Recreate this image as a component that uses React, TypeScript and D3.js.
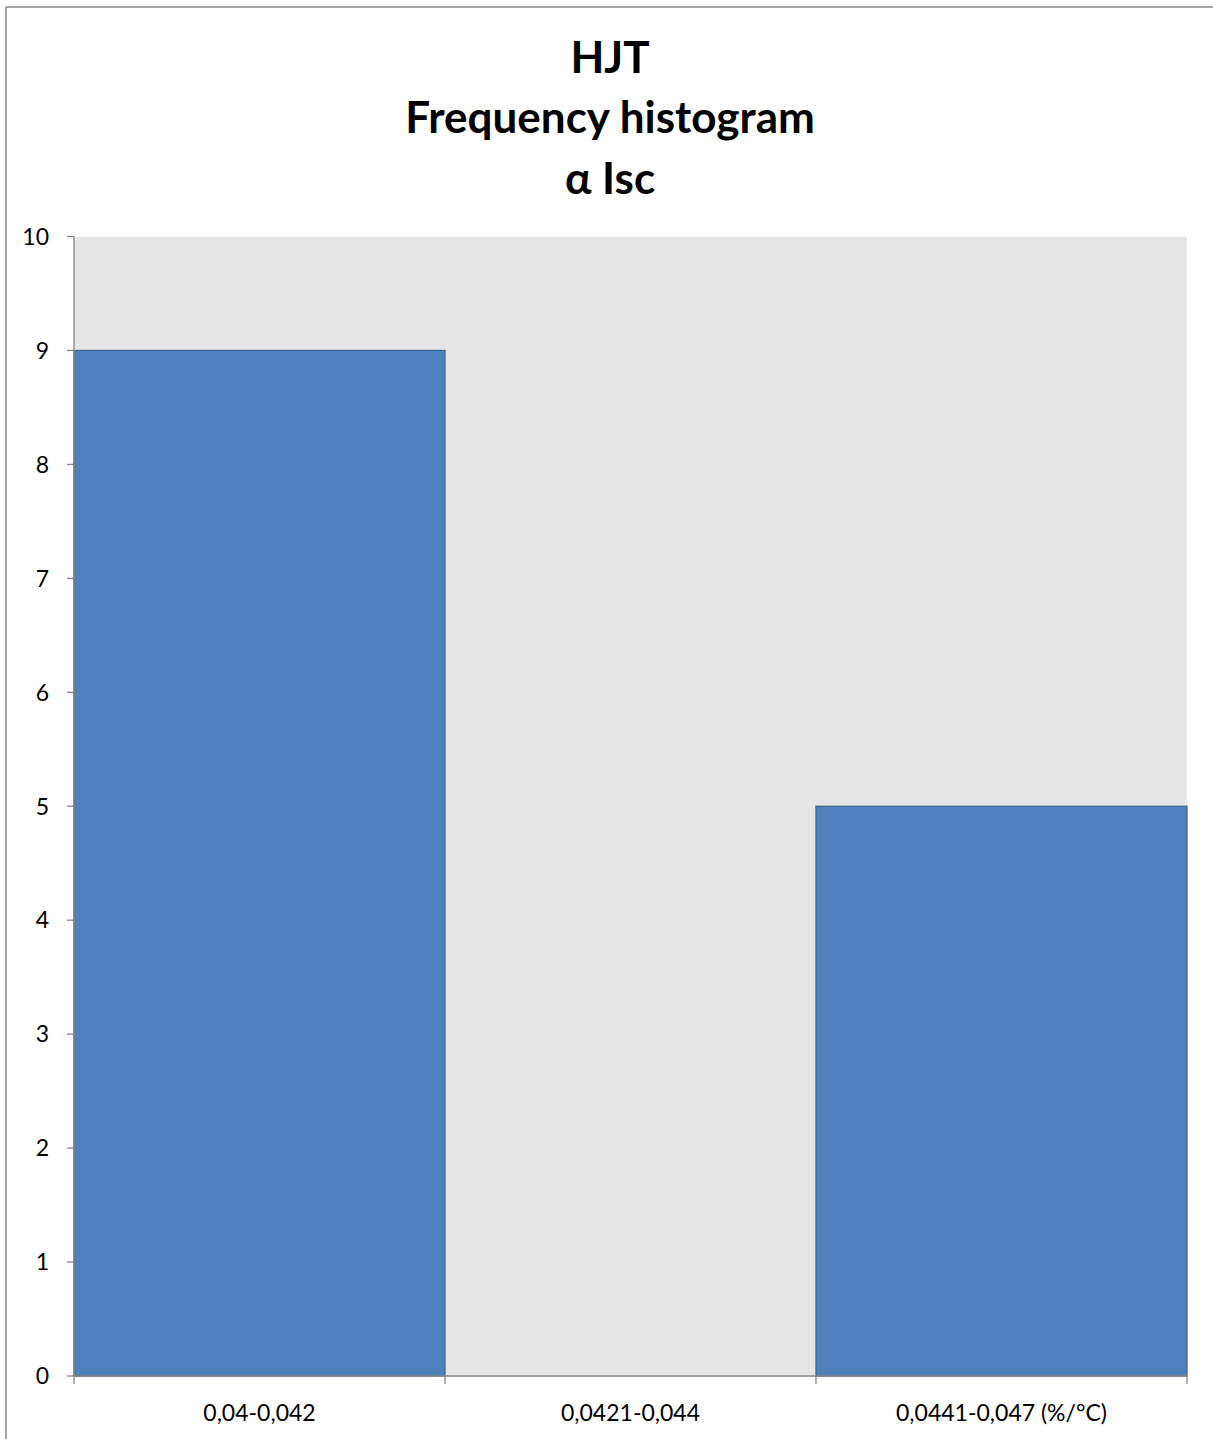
import React from "react";
import * as d3 from "d3";

const titleLines = ["HJT", "Frequency histogram", "α Isc"];
const categories = ["0,04-0,042", "0,0421-0,044", "0,0441-0,047 (%/°C)"];
const frequencies = [9, 0, 5];
const yTicks = [0, 1, 2, 3, 4, 5, 6, 7, 8, 9, 10];

const W = 1213;
const H = 1439;
const plot = { left: 74, right: 1187, top: 236.5, bottom: 1376 };
const axisColor = "#868686";
const font = "Lato, Carlito, 'Open Sans', sans-serif";

export default function App() {
  const x = d3
    .scaleBand<string>()
    .domain(categories)
    .range([plot.left, plot.right])
    .padding(0);
  const y = d3.scaleLinear().domain([0, 10]).range([plot.bottom, plot.top]);
  const boundaries = [...categories.map((c) => x(c) as number), plot.right];

  return (
    <svg
      width={W}
      height={H}
      style={{ position: "absolute", left: 0, top: 0, background: "#fff" }}
    >
      {/* chart border */}
      <line x1={6} y1={7} x2={W + 10} y2={7} stroke="#898989" strokeWidth={1.5} />
      <line x1={6} y1={7} x2={6} y2={H + 10} stroke="#898989" strokeWidth={1.5} />

      {/* title */}
      {titleLines.map((t, i) => (
        <text
          key={t}
          x={610}
          y={72.5 + i * 60.5}
          textAnchor="middle"
          fontFamily={font}
          fontWeight="bold"
          fontSize={44}
          fill="#000"
        >
          {t}
        </text>
      ))}

      {/* plot background */}
      <rect
        x={plot.left}
        y={plot.top}
        width={plot.right - plot.left}
        height={plot.bottom - plot.top}
        fill="#E6E6E6"
      />

      {/* bars */}
      {categories.map((c, i) =>
        frequencies[i] > 0 ? (
          <rect
            key={c}
            x={x(c) as number}
            y={y(frequencies[i])}
            width={x.bandwidth()}
            height={y(0) - y(frequencies[i])}
            fill="#4F81BD"
            stroke="#3F6895"
            strokeWidth={1.3}
          />
        ) : null
      )}

      {/* y axis */}
      <line
        x1={plot.left}
        y1={plot.top}
        x2={plot.left}
        y2={plot.bottom}
        stroke={axisColor}
        strokeWidth={1.3}
      />
      {yTicks.map((t) => (
        <g key={t}>
          <line
            x1={plot.left - 7}
            x2={plot.left}
            y1={y(t)}
            y2={y(t)}
            stroke={axisColor}
            strokeWidth={1.3}
          />
          <text
            x={49}
            y={y(t)}
            dy="0.36em"
            textAnchor="end"
            fontFamily={font}
            fontSize={23}
            fill="#000"
          >
            {t}
          </text>
        </g>
      ))}

      {/* x axis */}
      <line
        x1={plot.left}
        y1={plot.bottom}
        x2={plot.right}
        y2={plot.bottom}
        stroke={axisColor}
        strokeWidth={1.3}
      />
      {boundaries.map((b, i) => (
        <line
          key={i}
          x1={b}
          x2={b}
          y1={plot.bottom}
          y2={plot.bottom + 8}
          stroke={axisColor}
          strokeWidth={1.3}
        />
      ))}
      {categories.map((c) => (
        <text
          key={c}
          x={(x(c) as number) + x.bandwidth() / 2}
          y={1421}
          textAnchor="middle"
          fontFamily={font}
          fontSize={23}
          fill="#000"
        >
          {c}
        </text>
      ))}
    </svg>
  );
}
